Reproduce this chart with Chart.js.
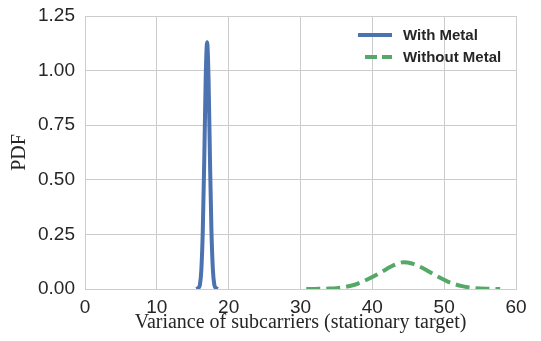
<!DOCTYPE html>
<html>
<head>
<meta charset="utf-8">
<script src="https://cdn.jsdelivr.net/npm/chart.js@4/dist/chart.umd.min.js"></script>
<style>
  html, body { margin: 0; padding: 0; background: #fff; }
  #grafico { display: block; }
</style>
</head>
<body>
<canvas id="grafico" width="541" height="341"></canvas>
<script>
// valores
const xComMetal = [15.5, 15.8, 16.0, 16.2, 16.4, 16.6, 16.8, 17.0, 17.2, 17.4, 17.6, 17.8, 18.0, 18.2, 18.5];
const yComMetal = [0.0, 0.005, 0.02, 0.09, 0.27, 0.59, 0.96, 1.13, 0.96, 0.59, 0.27, 0.09, 0.02, 0.005, 0.0];

const xSemMetal = [30.8, 32, 34, 35, 36, 37, 38, 39, 40, 41, 42, 43, 44.3, 45.5, 46.5, 47.5, 48.5, 49.5, 50.5, 51.5, 52.5, 54, 56, 57.8];
const ySemMetal = [0.0, 0.0005, 0.002, 0.004, 0.008, 0.015, 0.025, 0.039, 0.055, 0.073, 0.092, 0.109, 0.122, 0.117, 0.104, 0.087, 0.068, 0.05, 0.034, 0.022, 0.013, 0.005, 0.001, 0.0];

const ticksY = [0, 0.25, 0.5, 0.75, 1.0, 1.25];
const ticksX = [0, 10, 20, 30, 40, 50, 60];

const rotulos = ['With Metal', 'Without Metal'];
const azul = '#4c72b0';
const verde = '#55a868';
const corTexto = '#262626';
const fonteSans = '"Liberation Sans", Arial, sans-serif';
const fonteSerif = '"Liberation Serif", "Times New Roman", serif';

function pares(xs, ys) {
    return xs.map((x, i) => ({ x: x, y: ys[i] }));
}

// legenda desenhada dentro da area do grafico
const legendaInterna = {
    id: 'legendaInterna',
    afterDraw(chart) {
        const ctx = chart.ctx;
        ctx.save();
        ctx.font = 'bold 15px ' + fonteSans;
        ctx.fillStyle = corTexto;
        ctx.textBaseline = 'middle';
        ctx.lineWidth = 4;
        const itens = [
            { y: 35, cor: azul, dash: [], x0: 358 },
            { y: 57, cor: verde, dash: [12, 5], x0: 365 }
        ];
        itens.forEach((item, i) => {
            ctx.strokeStyle = item.cor;
            ctx.setLineDash(item.dash);
            ctx.beginPath();
            ctx.moveTo(item.x0, item.y);
            ctx.lineTo(392, item.y);
            ctx.stroke();
            ctx.setLineDash([]);
            ctx.fillText(rotulos[i], 403, item.y + 1);
        });
        ctx.restore();
    }
};

const contexto = document.getElementById('grafico').getContext('2d');

new Chart(contexto, {
    type: 'line',
    data: {
        datasets: [
            {
                label: rotulos[0],
                data: pares(xComMetal, yComMetal),
                borderColor: azul,
                borderWidth: 4,
                pointRadius: 0,
                cubicInterpolationMode: 'monotone',
                fill: false,
            },
            {
                label: rotulos[1],
                data: pares(xSemMetal, ySemMetal),
                borderColor: verde,
                borderWidth: 4,
                borderDash: [14, 6],
                pointRadius: 0,
                cubicInterpolationMode: 'monotone',
                fill: false,
            },
        ],
    },
    options: {
        responsive: false,
        animation: false,
        layout: {
            padding: { top: 16, right: 25, left: 0, bottom: 0 },
        },
        plugins: {
            legend: { display: false },
            tooltip: { enabled: false },
        },
        scales: {
            x: {
                type: 'linear',
                min: 0,
                max: 60,
                afterBuildTicks: (scale) => { scale.ticks = ticksX.map(v => ({ value: v })); },
                afterFit: (scale) => {
                    scale.height = 52;
                    scale.paddingLeft = 0;
                    scale.paddingRight = 0;
                },
                grid: { color: '#cccccc', lineWidth: 1, drawTicks: false },
                border: { color: '#cccccc', width: 1 },
                ticks: {
                    padding: 7,
                    color: corTexto,
                    font: { family: fonteSans, size: 19 },
                },
                title: {
                    display: true,
                    text: 'Variance of subcarriers (stationary target)',
                    color: corTexto,
                    font: { family: fonteSerif, size: 20 },
                    padding: { top: 0, bottom: 6 },
                },
            },
            y: {
                min: 0,
                max: 1.25,
                afterBuildTicks: (scale) => { scale.ticks = ticksY.map(v => ({ value: v })); },
                afterFit: (scale) => {
                    scale.width = 85;
                    scale.paddingTop = 0;
                    scale.paddingBottom = 0;
                },
                grid: { color: '#cccccc', lineWidth: 1, drawTicks: false },
                border: { color: '#cccccc', width: 1 },
                ticks: {
                    padding: 10,
                    color: corTexto,
                    font: { family: fonteSans, size: 19 },
                    callback: (v) => Number(v).toFixed(2),
                },
                title: {
                    display: true,
                    text: 'PDF',
                    color: corTexto,
                    font: { family: fonteSerif, size: 20 },
                    padding: { top: 8, bottom: 0 },
                },
            },
        },
    },
    plugins: [legendaInterna],
});
</script>
</body>
</html>
